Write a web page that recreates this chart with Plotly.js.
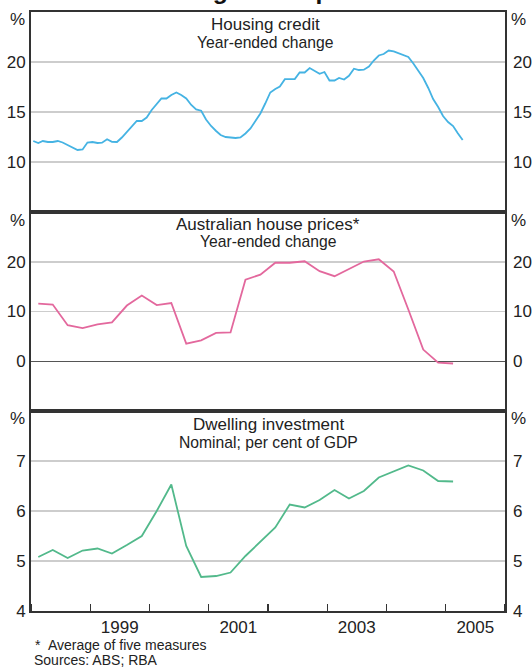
<!DOCTYPE html>
<html><head><meta charset="utf-8">
<script src="https://cdn.plot.ly/plotly-3.0.1.min.js"></script>
<style>html,body{margin:0;padding:0;background:#fff;}#chart{width:532px;height:667px;}</style>
</head><body><div id="chart"></div>
<script>
// ---- data ----
const chartTitle = 'Housing Developments';
const panelTitles = ['Housing credit', 'Australian house prices*', 'Dwelling investment'];
const panelSubtitles = ['Year-ended change', 'Year-ended change', 'Nominal; per cent of GDP'];

// monthly, Jan 1998 – Apr 2005
const creditStartYear = 1998;
const housingCredit = [
  12.1, 11.9, 12.1, 12.0, 12.0, 12.1, 11.95, 11.7, 11.45, 11.2, 11.25, 11.95,
  12.0, 11.9, 11.93, 12.28, 12.02, 12.0, 12.45, 13.0, 13.6, 14.1, 14.1, 14.45,
  15.2, 15.85, 16.35, 16.35, 16.7, 16.95, 16.7, 16.35, 15.7, 15.25, 15.13, 14.25,
  13.6, 13.1, 12.7, 12.5, 12.45, 12.4, 12.45, 12.85, 13.35, 14.1, 14.85, 15.85,
  16.95, 17.3, 17.55, 18.28, 18.28, 18.3, 18.95, 18.95, 19.4, 19.1, 18.82, 19.0,
  18.15, 18.15, 18.4, 18.25, 18.62, 19.33, 19.2, 19.23, 19.55, 20.15, 20.65, 20.8,
  21.15, 21.07, 20.9, 20.75, 20.5, 19.85, 19.15, 18.4, 17.4, 16.3, 15.5, 14.6,
  14.0, 13.6, 12.9, 12.2
];

// quarterly, Q1 1998 – Q1 2005
const quarterStartYear = 1998;
const housePrices = [
  11.6, 11.4, 7.25, 6.65,
  7.4, 7.8, 11.2, 13.2,
  11.3, 11.7, 3.55, 4.2,
  5.7, 5.8, 16.4, 17.4,
  19.8, 19.8, 20.1, 18.1,
  17.1, 18.6, 20.05, 20.5,
  18.05, 10.4, 2.35, -0.3,
  -0.45
];
const dwellingInvestment = [
  5.08, 5.22, 5.06, 5.21,
  5.25, 5.15, 5.32, 5.5,
  6.0, 6.53, 5.3, 4.68,
  4.70, 4.77, 5.1, 5.39,
  5.67, 6.13, 6.07, 6.22,
  6.42, 6.25, 6.40, 6.67,
  6.79, 6.91, 6.81, 6.6,
  6.59
];

const yearTickVals = ['1998-01-01','1999-01-01','2000-01-01','2001-01-01','2002-01-01','2003-01-01','2004-01-01','2005-01-01','2006-01-01'];
const yearLabelVals = ['1999-07-02','2001-07-02','2003-07-02','2005-07-02'];
const yearLabelText = ['1999','2001','2003','2005'];
const creditTicks = [10, 15, 20];
const priceTicks = [0, 10, 20];
const dwellingTicks = [4, 5, 6, 7];

// ---- build dates ----
function pad(n){return (n<10?'0':'')+n;}
const monthDates = housingCredit.map((_, i) => {
  const y = creditStartYear + Math.floor(i/12), m = i%12 + 1;
  return y + '-' + pad(m) + '-15';
});
const quarterDates = housePrices.map((_, i) => {
  const y = quarterStartYear + Math.floor(i/4), m = (i%4)*3 + 2;
  return y + '-' + pad(m) + '-15';
});

const FONT = '"Liberation Sans", Arial, Helvetica, sans-serif';
const TXT = '#222';
const FRAME = '#333';
const GRID = '#cdcdcd';
const xRange = ['1998-01-01', '2006-01-01'];

const series = [
  {x: monthDates, y: housingCredit, color: '#45b3e3'},
  {x: quarterDates, y: housePrices, color: '#e3689d'},
  {x: quarterDates, y: dwellingInvestment, color: '#52b98b'}
];
const traces = [];
series.forEach((s, i) => {
  const xa = i === 0 ? 'x' : 'x' + (i+1);
  const ya = i === 0 ? 'y' : 'y' + (i+1);
  traces.push({x: s.x, y: s.y, xaxis: xa, yaxis: ya, mode: 'lines',
    line: {color: s.color, width: 1.8}, hoverinfo: 'skip'});
  // transparent copy so the right-hand mirrored axis is drawn
  traces.push({x: s.x, y: s.y, xaxis: xa, yaxis: 'y' + (i+4), mode: 'lines',
    line: {color: 'rgba(0,0,0,0)', width: 0}, hoverinfo: 'skip'});
});

const plotTop = 12, plotBottom = 611, plotH = plotBottom - plotTop;
const d1 = [(plotBottom-212)/plotH, 1];
const d2 = [(plotBottom-411)/plotH, (plotBottom-212)/plotH];
const d3 = [0, (plotBottom-411)/plotH];

function xAx(anchor, extra){
  return Object.assign({type: 'date', range: xRange, anchor: anchor, domain: [0,1],
    showline: true, mirror: true, linecolor: FRAME, linewidth: 2,
    showgrid: false, zeroline: false, showticklabels: false, ticks: '', fixedrange: true}, extra||{});
}
function yAx(domain, range, ticks, anchor, extra){
  return Object.assign({domain: domain, range: range, anchor: anchor,
    tickmode: 'array', tickvals: ticks, ticks: '',
    showline: true, mirror: true, linecolor: FRAME, linewidth: 2,
    showgrid: true, gridcolor: GRID, gridwidth: 1.5, zeroline: false,
    tickfont: {family: FONT, size: 17, color: TXT}, fixedrange: true}, extra||{});
}
function yRight(over, anchor, range, ticks){
  return {overlaying: over, side: 'right', anchor: anchor, range: range,
    tickmode: 'array', tickvals: ticks, ticks: '', showgrid: false, zeroline: false,
    showline: false, ticklabelstandoff: 7,
    tickfont: {family: FONT, size: 17, color: TXT}, fixedrange: true};
}

function pxY(py){ return (plotBottom - py)/plotH; }
function pxX(px){ return (px - 31)/474; }

const annotations = [];
function ann(text, px, py, size, anchor, extra){
  annotations.push(Object.assign({text: text, xref: 'paper', yref: 'paper', x: pxX(px), y: pxY(py),
    xanchor: anchor||'center', yanchor: 'middle', showarrow: false,
    font: {family: FONT, size: size, color: TXT}}, extra||{}));
}
// main title (cut off at top, as in the original)
annotations.push({text: '<b>' + chartTitle + '</b>', xref: 'paper', yref: 'paper',
  x: pxX(266), y: pxY(6), xanchor: 'center', yanchor: 'bottom', showarrow: false,
  font: {family: FONT, size: 24.7, color: '#111'}});
// panel titles
const titleY = [[24, 42.5], [224, 241.7], [424, 442]];
const titleX = [265, 268, 268];
for (let i = 0; i < 3; i++){
  ann(panelTitles[i], titleX[i], titleY[i][0], 17);
  ann(panelSubtitles[i], titleX[i], titleY[i][1], 15.7);
}
// % units
[20, 220, 419].forEach(py => { ann('%', 17, py, 17); ann('%', 518, py, 17); });
// footnotes
ann('*', 33, 645, 14, 'left');
ann('Average of five measures', 46, 645, 14, 'left');
ann('Sources: ABS; RBA', 32, 660, 14, 'left');

const layout = {
  width: 532, height: 667,
  margin: {l: 31, r: 27, t: 12, b: 56, pad: 0},
  paper_bgcolor: '#fff', plot_bgcolor: '#fff',
  showlegend: false,
  font: {family: FONT, color: TXT},
  xaxis: xAx('y'),
  xaxis2: xAx('y2'),
  xaxis3: xAx('y3', {showticklabels: true, tickmode: 'array', tickvals: yearLabelVals, ticktext: yearLabelText,
    ticks: '', tickfont: {family: FONT, size: 17, color: TXT},
    minor: {tickmode: 'array', tickvals: yearTickVals, ticks: 'inside', ticklen: 7, tickwidth: 1.2,
      tickcolor: FRAME, showgrid: false}}),
  yaxis: yAx(d1, [5, 25], creditTicks, 'x'),
  yaxis2: yAx(d2, [-10, 30], priceTicks, 'x2', {zeroline: true, zerolinecolor: '#555', zerolinewidth: 1.5}),
  yaxis3: yAx(d3, [4, 8], dwellingTicks, 'x3'),
  yaxis4: yRight('y', 'x', [5, 25], creditTicks),
  yaxis5: yRight('y2', 'x2', [-10, 30], priceTicks),
  yaxis6: yRight('y3', 'x3', [4, 8], dwellingTicks),
  annotations: annotations
};

Plotly.newPlot('chart', traces, layout, {displayModeBar: false, staticPlot: true});
</script>
</body></html>
